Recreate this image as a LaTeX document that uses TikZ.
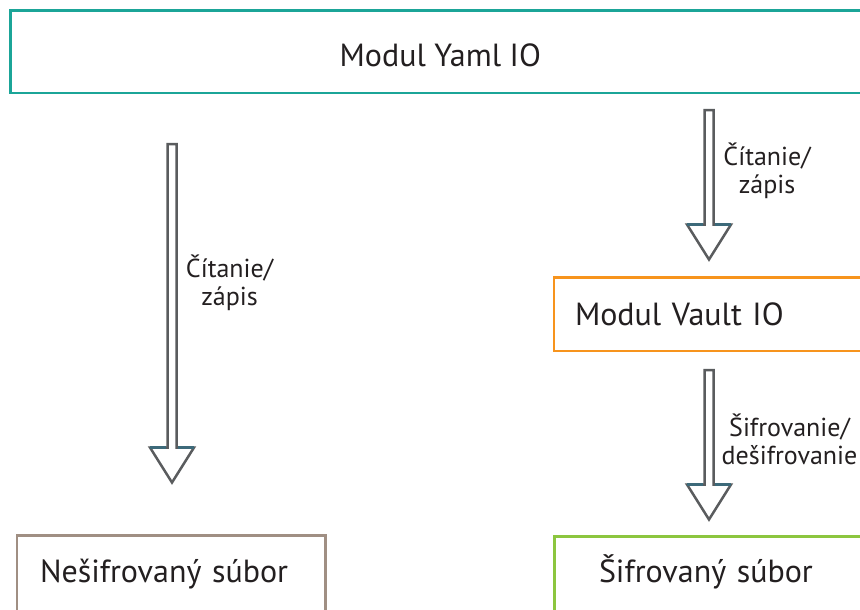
\documentclass[tikz,border=0pt]{standalone}
\usepackage{fontspec}
\setmainfont{PT Sans}
\usetikzlibrary{calc}

\definecolor{yamlteal}{HTML}{1BA598}
\definecolor{vaultorange}{HTML}{F7941D}
\definecolor{encgreen}{HTML}{8CC63F}
\definecolor{plainbrown}{HTML}{A08F83}
\definecolor{arrowgray}{HTML}{5A5C5E}
\definecolor{arrowshoulder}{HTML}{3D6A7A}
\definecolor{inktext}{HTML}{231F20}

\tikzset{
  box/.style={draw, line width=2.8pt, fill=white, inner ysep=0pt,
    text=inktext, font=\fontsize{32}{38}\selectfont},
  leftbox/.style={box, align=left},
  arrowline/.style={draw=arrowgray, fill=white, line width=2.5pt, line join=miter},
  shoulder/.style={draw=arrowshoulder, line width=2.5pt},
  % base anchor of a two-line label sits on its last line
  arrowlabel/.style={text=inktext, align=center, inner sep=0pt, anchor=base,
    font=\fontsize{26}{28}\selectfont},
}

% hollow block arrow from #1 down to the tip #2
\newcommand\hollowarrow[2]{%
  \draw[arrowline] let \p1=(#1), \p2=(#2) in
    (\x1-4.5pt,\y1) -- (\x1-4.5pt,\y2+35pt) -- (\x1-22pt,\y2+35pt) --
    (\x2,\y2) -- (\x1+22pt,\y2+35pt) -- (\x1+4.5pt,\y2+35pt) --
    (\x1+4.5pt,\y1) -- cycle;
  \draw[shoulder] let \p1=(#1), \p2=(#2) in
    (\x1-22pt,\y2+35pt) -- (\x1-5.75pt,\y2+35pt)
    (\x1+5.75pt,\y2+35pt) -- (\x1+22pt,\y2+35pt);
}

\begin{document}
\begin{tikzpicture}[x=1pt, y=-1pt]
  \useasboundingbox (0,0) rectangle (860,610);
  \clip (0,0) rectangle (860,610);

  % modules and files
  \node[box, draw=yamlteal, minimum width=859.5pt, minimum height=82.5pt,
        inner xsep=0pt, text height=30pt, text depth=0pt]
    (yaml) at (440.25,51.75) {Modul Yaml IO};

  \node[leftbox, draw=vaultorange, minimum width=316pt, minimum height=73.5pt,
        inner xsep=21pt, text width=274pt, text height=22.5pt, text depth=0pt]
    (vault) at (712,314.25) {Modul Vault IO};

  \node[leftbox, draw=plainbrown, minimum width=308.5pt, minimum height=104.5pt,
        inner xsep=23pt, text width=262.5pt, text height=10pt, text depth=21.5pt]
    (plain) at (171.25,587.75) {Nešifrovaný súbor};

  \node[leftbox, draw=encgreen, minimum width=315.5pt, minimum height=103.5pt,
        inner xsep=44.5pt, text width=226.5pt, text height=10pt, text depth=22.5pt]
    (enc) at (712.25,588.25) {Šifrovaný súbor};

  % arrow ends
  \coordinate (plainA) at (172,144);
  \coordinate (plainB) at (172,482.5);
  \coordinate (vaultA) at (709,110);
  \coordinate (vaultB) at (709,259.5);
  \coordinate (encA)   at (709,370);
  \coordinate (encB)   at (709,519.5);

  \hollowarrow{plainA}{plainB}
  \hollowarrow{vaultA}{vaultB}
  \hollowarrow{encA}{encB}

  % arrow labels
  \node[arrowlabel] (plainlbl) at (229.5,305) {Čítanie/\\zápis};
  \node[arrowlabel] (vaultlbl) at (767,193) {Čítanie/\\zápis};
  \node[arrowlabel] (enclbl)   at (789.5,464) {Šifrovanie/\\dešifrovanie};
\end{tikzpicture}
\end{document}
